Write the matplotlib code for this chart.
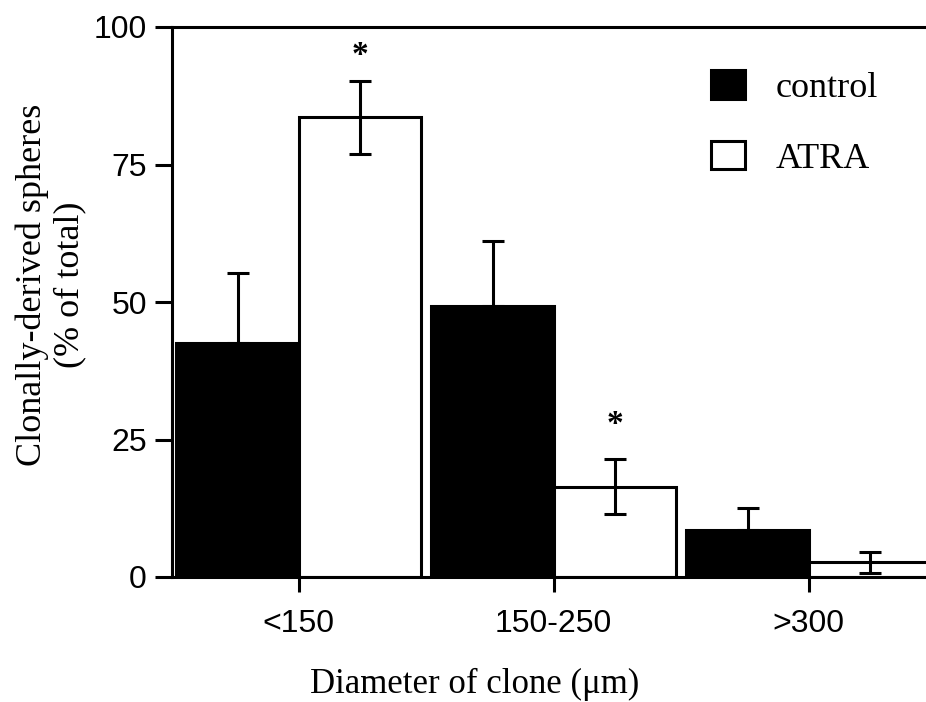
import matplotlib
matplotlib.use("Agg")
import matplotlib.pyplot as plt
from matplotlib.patches import Patch
from matplotlib import font_manager
import numpy as np

# values
categories = ["<150", "150-250", ">300"]
control = [42.5, 49.3, 8.5]
control_err = [12.8, 11.8, 4.0]
atra = [83.6, 16.4, 2.7]
atra_err = [6.6, 5.0, 1.9]
star_y = [96.0, 29.0, None]  # asterisk height over ATRA bar (None = no mark)
y_ticks = [0, 25, 50, 75, 100]

names = {f.name for f in font_manager.fontManager.ttflist}
tick_font = "Liberation Sans Narrow" if "Liberation Sans Narrow" in names else "Liberation Sans"
label_font = "Liberation Serif"

W, H = 926, 702
fig = plt.figure(figsize=(W / 100, H / 100), dpi=100)
x0, x1, y0, y1 = 172, 926, 577, 27
ax = fig.add_axes([x0 / W, 1 - y0 / H, (x1 - x0) / W, (y0 - y1) / H])

x = np.arange(len(categories))
width = 0.48
lw = 2.2

ax.bar(x - width / 2, control, width, color="black", edgecolor="black", linewidth=lw, zorder=2)
ax.bar(x + width / 2, atra, width, color="white", edgecolor="black", linewidth=lw, zorder=2)

ax.errorbar(x - width / 2, control, yerr=[np.zeros(3), control_err], fmt="none",
            ecolor="black", elinewidth=lw, capsize=8, capthick=lw, zorder=3)
ax.errorbar(x + width / 2, atra, yerr=atra_err, fmt="none",
            ecolor="black", elinewidth=lw, capsize=8, capthick=lw, zorder=3)

# asterisk glyph sits high in its box, nudge it down a few points
for xi, sy in zip(x, star_y):
    if sy is not None:
        ax.annotate("*", (xi + width / 2, sy), xytext=(0, -5), textcoords="offset points",
                    ha="center", va="center", fontsize=24, fontweight="bold",
                    family=label_font, zorder=4)

ax.set_xlim(-0.497, 2.46)
ax.set_ylim(0, 100)
ax.set_yticks(y_ticks)
ax.set_xticks(x)
ax.set_xticklabels(categories)

for side in ["left", "bottom", "top"]:
    ax.spines[side].set_linewidth(lw)
ax.spines["right"].set_visible(False)

ax.tick_params(axis="y", direction="out", length=12, width=lw, pad=6, labelsize=23)
ax.tick_params(axis="x", direction="out", length=11, width=lw, pad=12, labelsize=23)
for lab in ax.get_xticklabels() + ax.get_yticklabels():
    lab.set_family(tick_font)

ax.set_xlabel("Diameter of clone (μm)", family=label_font, fontsize=25)
ax.xaxis.set_label_coords((475 - x0) / (x1 - x0), (577 - 668) / (y0 - y1))
ax.set_ylabel("Clonally-derived spheres\n(% of total)", family=label_font, fontsize=26,
              linespacing=1.15)
ax.yaxis.set_label_coords((86 - x0) / (x1 - x0), (577 - 285) / (y0 - y1))

handles = [Patch(facecolor="black", edgecolor="black", linewidth=lw),
           Patch(facecolor="white", edgecolor="black", linewidth=lw)]
ax.legend(handles, ["control", "ATRA"], loc="upper left",
          bbox_to_anchor=((711 - x0) / (x1 - x0), 1 - (70 - y1) / (y0 - y1)),
          frameon=False, prop={"family": label_font, "size": 26},
          handlelength=0.95, handleheight=0.85, handletextpad=0.85, labelspacing=0.99,
          borderpad=0, borderaxespad=0)

fig.savefig("out.png", dpi=100)
